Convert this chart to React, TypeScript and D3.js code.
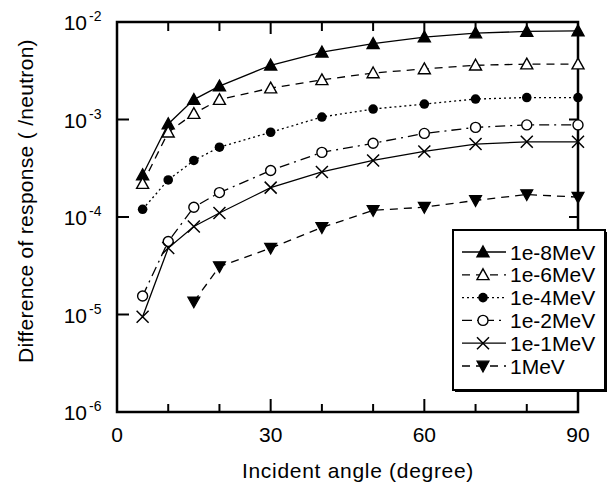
import React from "react";
import * as d3 from "d3";

const angles = [5, 10, 15, 20, 30, 40, 50, 60, 70, 80, 90];
const angles1MeV = [15, 20, 30, 40, 50, 60, 70, 80, 90];

const r1e8 = [2.7e-4, 9.0e-4, 1.6e-3, 2.2e-3, 3.6e-3, 4.9e-3, 6.0e-3, 7.0e-3, 7.7e-3, 8.0e-3, 8.1e-3];
const r1e6 = [2.2e-4, 7.4e-4, 1.15e-3, 1.6e-3, 2.1e-3, 2.55e-3, 3.0e-3, 3.3e-3, 3.6e-3, 3.7e-3, 3.7e-3];
const r1e4 = [1.2e-4, 2.4e-4, 3.8e-4, 5.2e-4, 7.4e-4, 1.06e-3, 1.28e-3, 1.44e-3, 1.62e-3, 1.68e-3, 1.68e-3];
const r1e2 = [1.55e-5, 5.6e-5, 1.26e-4, 1.78e-4, 3.0e-4, 4.6e-4, 5.7e-4, 7.2e-4, 8.3e-4, 8.8e-4, 8.8e-4];
const r1e1 = [9.5e-6, 4.8e-5, 8.0e-5, 1.1e-4, 2.0e-4, 2.9e-4, 3.8e-4, 4.7e-4, 5.6e-4, 5.9e-4, 5.9e-4];
const r1 = [1.35e-5, 3.1e-5, 4.8e-5, 7.8e-5, 1.17e-4, 1.26e-4, 1.48e-4, 1.7e-4, 1.6e-4];

const xTicks = [0, 30, 60, 90];
const xMinor = [10, 20, 40, 50, 70, 80];
const yExps = [-2, -3, -4, -5, -6];

const series = [
  { name: "1e-8MeV", xs: angles, ys: r1e8, dash: "none", marker: "triUp" },
  { name: "1e-6MeV", xs: angles, ys: r1e6, dash: "8,6", marker: "triUpOpen" },
  { name: "1e-4MeV", xs: angles, ys: r1e4, dash: "2,3", marker: "dot" },
  { name: "1e-2MeV", xs: angles, ys: r1e2, dash: "10,5,2,5", marker: "circleOpen" },
  { name: "1e-1MeV", xs: angles, ys: r1e1, dash: "none", marker: "cross" },
  { name: "1MeV", xs: angles1MeV, ys: r1, dash: "8,6", marker: "triDown" },
];

const FONT = "'Liberation Sans', Arial, sans-serif";

function Marker({ type, x, y }: { type: string; x: number; y: number }) {
  const s = 6;
  if (type === "triUp" || type === "triUpOpen") {
    return (
      <path
        d={`M${x},${y - s}L${x + s},${y + s * 0.8}L${x - s},${y + s * 0.8}Z`}
        fill={type === "triUp" ? "#000" : "#fff"}
        stroke="#000"
        strokeWidth={1.4}
      />
    );
  }
  if (type === "triDown") {
    return (
      <path
        d={`M${x},${y + s}L${x + s},${y - s * 0.8}L${x - s},${y - s * 0.8}Z`}
        fill="#000"
        stroke="#000"
        strokeWidth={1.2}
      />
    );
  }
  if (type === "dot") return <circle cx={x} cy={y} r={4.8} fill="#000" />;
  if (type === "circleOpen")
    return <circle cx={x} cy={y} r={5} fill="#fff" stroke="#000" strokeWidth={1.4} />;
  return (
    <path
      d={`M${x - 6},${y - 6}L${x + 6},${y + 6}M${x - 6},${y + 6}L${x + 6},${y - 6}`}
      stroke="#000"
      strokeWidth={1.5}
    />
  );
}

export default function App() {
  const width = 614;
  const height = 483;
  const left = 117, right = 578, top = 22, bottom = 412;

  const x = d3.scaleLinear().domain([0, 90]).range([left, right]);
  const y = d3.scaleLog().domain([1e-6, 1e-2]).range([bottom, top]);

  const line = d3
    .line<[number, number]>()
    .x((d) => x(d[0]))
    .y((d) => y(d[1]));

  const legendX = 453, legendY = 230, legendW = 152, legendH = 160;

  return (
    <svg
      width={width}
      height={height}
      style={{ position: "absolute", left: 0, top: 0, background: "#fff" }}
      fontFamily={FONT}
    >
      {/* series */}
      {series.map((s) => (
        <path
          key={s.name}
          d={line(s.xs.map((a, i) => [a, s.ys[i]] as [number, number])) || ""}
          fill="none"
          stroke="#000"
          strokeWidth={1.3}
          strokeDasharray={s.dash}
        />
      ))}

      {/* frame */}
      <rect x={left} y={top} width={right - left} height={bottom - top} fill="none" stroke="#000" strokeWidth={2.5} />

      {/* x ticks */}
      {xTicks.map((t) => (
        <g key={"xt" + t}>
          <line x1={x(t)} x2={x(t)} y1={bottom} y2={bottom - 13} stroke="#000" strokeWidth={2} />
          <line x1={x(t)} x2={x(t)} y1={top} y2={top + 12} stroke="#000" strokeWidth={2} />
          <text x={x(t)} y={442} fontSize={21} textAnchor="middle">
            {t}
          </text>
        </g>
      ))}
      {xMinor.map((t) => (
        <g key={"xm" + t}>
          <line x1={x(t)} x2={x(t)} y1={bottom} y2={bottom - 8} stroke="#000" strokeWidth={2} />
          <line x1={x(t)} x2={x(t)} y1={top} y2={top + 9} stroke="#000" strokeWidth={2} />
        </g>
      ))}

      {/* y ticks */}
      {yExps.map((e) => {
        const yy = y(Math.pow(10, e));
        return (
          <g key={"yt" + e}>
            <line x1={left} x2={left + 12} y1={yy} y2={yy} stroke="#000" strokeWidth={2} />
            <line x1={right} x2={right - 9} y1={yy} y2={yy} stroke="#000" strokeWidth={2} />
            <text x={87} y={yy + 8} fontSize={21} textAnchor="end">
              10
            </text>
            <text x={89} y={yy - 1} fontSize={14}>
              {"-" + -e}
            </text>
          </g>
        );
      })}

      {/* markers */}
      {series.map((s) =>
        s.xs.map((a, i) => <Marker key={s.name + a} type={s.marker} x={x(a)} y={y(s.ys[i])} />)
      )}

      {/* legend */}
      <rect x={legendX + 2} y={legendY + 2} width={legendW} height={legendH} fill="#000" />
      <rect x={legendX} y={legendY} width={legendW} height={legendH} fill="#fff" stroke="#000" strokeWidth={2} />
      {series.map((s, i) => {
        const cy = 252 + i * 22.8;
        return (
          <g key={"lg" + s.name}>
            <line x1={462} x2={506} y1={cy} y2={cy} stroke="#000" strokeWidth={1.3} strokeDasharray={s.dash} />
            <Marker type={s.marker} x={483} y={cy} />
            <text x={510} y={cy + 7.5} fontSize={21}>
              {s.name}
            </text>
          </g>
        );
      })}

      {/* axis titles */}
      <text x={358} y={478} fontSize={21} letterSpacing={0.7} textAnchor="middle">
        Incident angle (degree)
      </text>
      <text
        transform={`translate(33, ${(top + bottom) / 2 - 16}) rotate(-90)`}
        fontSize={21}
        letterSpacing={0.3}
        textAnchor="middle"
      >
        Difference of response ( /neutron)
      </text>
    </svg>
  );
}
